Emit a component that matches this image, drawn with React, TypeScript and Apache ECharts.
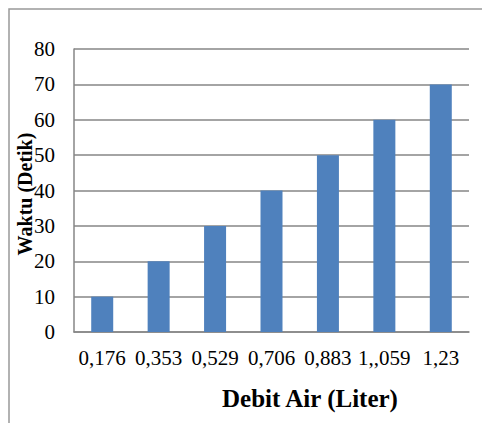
import React, { useEffect, useRef } from "react";
import * as echarts from "echarts";

const categories = ["0,176", "0,353", "0,529", "0,706", "0,883", "1,,059", "1,23"];
const values = [10, 20, 30, 40, 50, 60, 70];
const yTitle = "Waktu (Detik)";
const xTitle = "Debit Air (Liter)";

const FONT = "'Liberation Serif', 'Times New Roman', serif";

export default function App() {
  const ref = useRef<HTMLDivElement>(null);
  useEffect(() => {
    if (!ref.current) return;
    const chart = echarts.init(ref.current, undefined, { renderer: "svg" });
    chart.setOption({
      animation: false,
      backgroundColor: "#ffffff",
      grid: { left: 74, right: 13, top: 49, bottom: 91, containLabel: false },
      xAxis: {
        type: "category",
        data: categories,
        axisLine: { show: true, lineStyle: { color: "#868686", width: 1.5 } },
        axisTick: { show: false },
        axisLabel: { color: "#000", fontSize: 21, fontFamily: FONT, margin: 15, interval: 0 },
      },
      yAxis: {
        type: "value",
        min: 0,
        max: 80,
        interval: 10,
        axisLine: { show: true, lineStyle: { color: "#868686", width: 1.5 } },
        axisTick: { show: false },
        splitLine: { show: true, lineStyle: { color: "#868686", width: 1.5 } },
        axisLabel: { color: "#000", fontSize: 21, fontFamily: FONT, margin: 19 },
      },
      series: [
        {
          type: "bar",
          data: values,
          barWidth: 22,
          itemStyle: { color: "#4F81BD" },
        },
      ],
      graphic: [
        {
          type: "rect",
          shape: { x: 9, y: 9, width: 600, height: 600 },
          style: { fill: "none", stroke: "#999999", lineWidth: 1.5 },
          silent: true,
        },
        {
          type: "text",
          x: 25,
          y: 194,
          rotation: Math.PI / 2,
          style: {
            text: yTitle,
            fontSize: 20,
            fontWeight: "bold",
            fontFamily: FONT,
            fill: "#000",
            textAlign: "center",
            textVerticalAlign: "middle",
          },
        },
        {
          type: "text",
          x: 310,
          y: 398,
          style: {
            text: xTitle,
            fontSize: 25,
            fontWeight: "bold",
            fontFamily: FONT,
            fill: "#000",
            textAlign: "center",
            textVerticalAlign: "middle",
          },
        },
      ],
    });
    return () => chart.dispose();
  }, []);
  return (
    <div
      ref={ref}
      style={{ position: "fixed", left: 0, top: 0, width: 482, height: 423 }}
    />
  );
}
